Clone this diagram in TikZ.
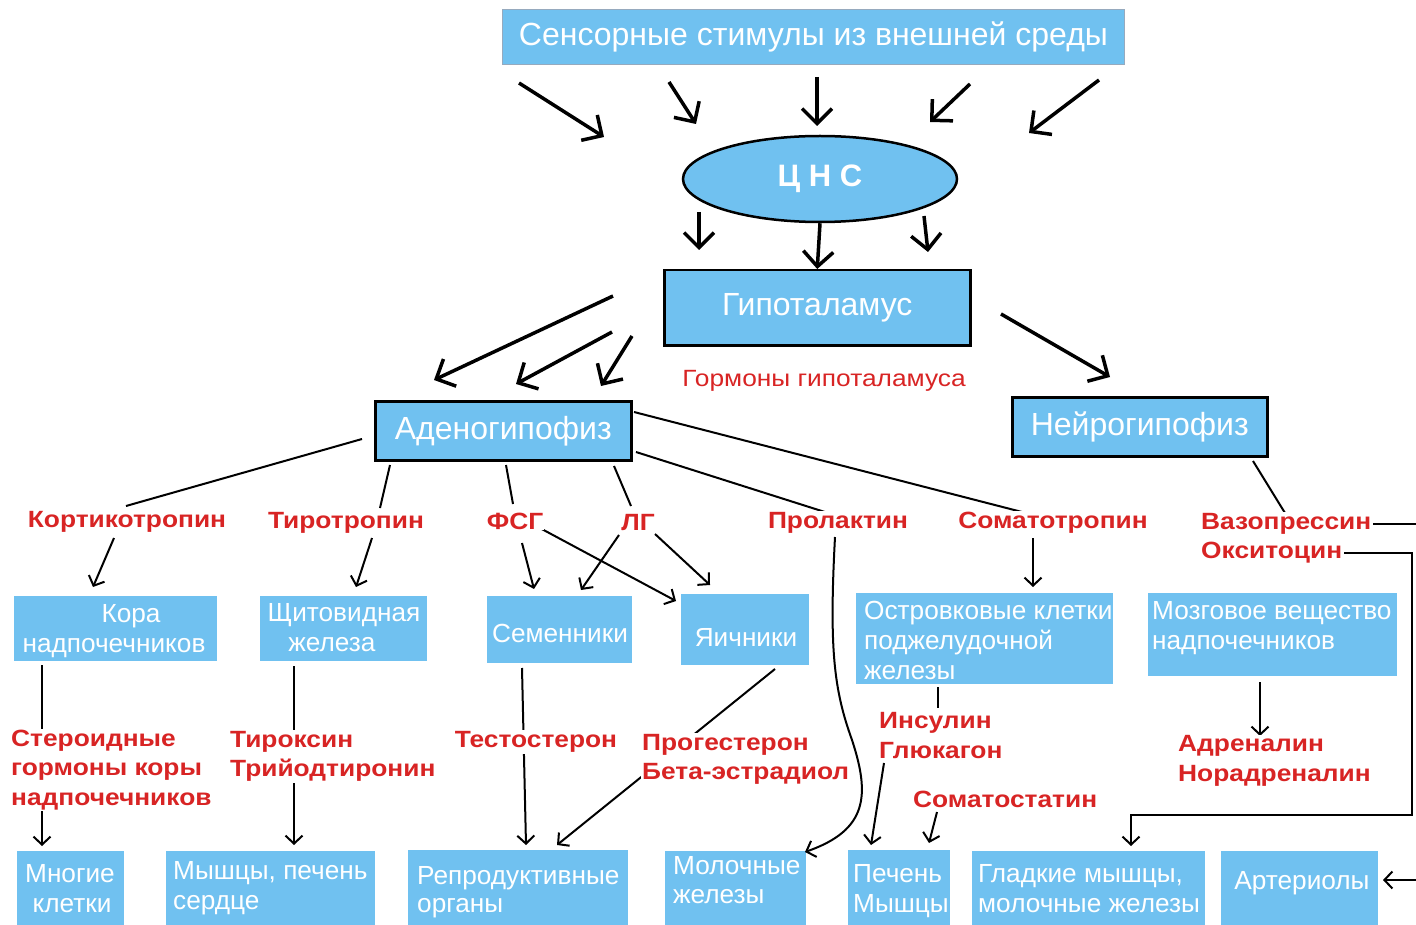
\documentclass[tikz,border=0pt]{standalone}
\usepackage{fontspec}
\setmainfont{Liberation Sans}
\newfontfamily\labfont[FakeStretch=1.12]{Liberation Sans}
\usetikzlibrary{shapes.geometric,arrows.meta}
\pgfdeclarelayer{bg}
\pgfsetlayers{bg,main}
\definecolor{boxblue}{RGB}{112,193,240}
\definecolor{hred}{RGB}{216,36,36}
\definecolor{edgegray}{RGB}{150,170,190}
\begin{document}
\begin{tikzpicture}[x=1pt,y=-1pt,
  box/.style={rectangle, fill=boxblue, inner sep=0pt, anchor=north west},
  mainbox/.style={box, draw=black, line width=2.5pt, text=white, font=\fontsize{32}{36}\selectfont},
  bt/.style={text=white, font=\fontsize{26.2}{30}\selectfont, inner sep=0pt, anchor=base west},
  btc/.style={bt, anchor=base},
  lab/.style={text=hred, font=\labfont\fontsize{23.5}{29.5}\selectfont\bfseries, align=left,
    inner sep=1pt, fill=white},
  bigarrow/.style={line width=3.5pt, -{Straight Barb[length=15pt,width=30pt]}},
  thinarrow/.style={line width=2pt, -{Straight Barb[length=8pt,width=17pt]}},
  conn/.style={line width=2pt}
]
\useasboundingbox (0,0) rectangle (1416,925);

% ---------- main nodes ----------
\node[box, draw=edgegray, line width=1pt, minimum width=622pt, minimum height=55pt,
  text=white, font=\fontsize{32}{36}\selectfont] (top) at (502,9) {Сенсорные стимулы из внешней среды};
\node[ellipse, fill=boxblue, draw=black, line width=2.5pt, minimum width=274pt,
  minimum height=86pt, text=white, font=\fontsize{31}{36}\selectfont\bfseries] (cns) at (820,179) {Ц Н С};
\node[mainbox, minimum width=306pt, minimum height=75pt] (hypo) at (663,269) {Гипоталамус};
\node[text=hred, font=\labfont\fontsize{23.5}{26}\selectfont] (hormh) at (824,381) {Гормоны гипоталамуса};
\node[mainbox, minimum width=256pt, minimum height=59pt] (adeno) at (374,400) {Аденогипофиз};
\node[mainbox, minimum width=255pt, minimum height=59pt] (neuro) at (1011,396) {Нейрогипофиз};

% ---------- second row ----------
\node[box, minimum width=203pt, minimum height=65pt] (kora) at (14,596) {};
\node[btc] (koraT1) at (131,622) {Кора};
\node[btc] (koraT2) at (114,652) {надпочечников};
\node[box, minimum width=167pt, minimum height=65pt] (shchit) at (260,596) {};
\node[btc] (shchitT1) at (344,621) {Щитовидная};
\node[btc] (shchitT2) at (332,651) {железа};
\node[box, minimum width=145pt, minimum height=67pt] (semen) at (487,596) {};
\node[btc] (semenT) at (560,642) {Семенники};
\node[box, minimum width=128pt, minimum height=71pt] (yaich) at (681,594) {};
\node[btc] (yaichT) at (746,646) {Яичники};
\node[box, minimum width=257pt, minimum height=91pt] (ostrov) at (856,593) {};
\node[bt] (ostrovT1) at (864,619) {Островковые клетки};
\node[bt] (ostrovT2) at (864,649) {поджелудочной};
\node[bt] (ostrovT3) at (864,679) {железы};
\node[box, minimum width=249pt, minimum height=83pt] (mozg) at (1148,593) {};
\node[bt] (mozgT1) at (1152,619) {Мозговое вещество};
\node[bt] (mozgT2) at (1152,649) {надпочечников};

% ---------- bottom row ----------
\node[box, minimum width=107pt, minimum height=74pt] (mnog) at (17,851) {};
\node[btc] (mnogT1) at (70,882) {Многие};
\node[btc] (mnogT2) at (72,912) {клетки};
\node[box, minimum width=209pt, minimum height=74pt] (mysh) at (166,851) {};
\node[bt] (myshT1) at (173,879) {Мышцы, печень};
\node[bt] (myshT2) at (173,909) {сердце};
\node[box, minimum width=220pt, minimum height=75pt] (repro) at (408,850) {};
\node[bt] (reproT1) at (417,884) {Репродуктивные};
\node[bt] (reproT2) at (417,912) {органы};
\node[box, minimum width=141pt, minimum height=74pt] (moloch) at (665,851) {};
\node[bt] (molochT1) at (673,874) {Молочные};
\node[bt] (molochT2) at (673,903) {железы};
\node[box, minimum width=102pt, minimum height=75pt] (pech) at (848,850) {};
\node[bt] (pechT1) at (853,882) {Печень};
\node[bt] (pechT2) at (853,912) {Мышцы};
\node[box, minimum width=233pt, minimum height=74pt] (glad) at (972,851) {};
\node[bt] (gladT1) at (978,882) {Гладкие мышцы,};
\node[bt] (gladT2) at (978,912) {молочные железы};
\node[box, minimum width=157pt, minimum height=74pt] (arter) at (1221,851) {};
\node[btc] (arterT) at (1302,889) {Артериолы};

% ---------- hormone labels ----------
\node[lab] (korti) at (127,522) {Кортикотропин};
\node[lab] (tiro) at (346,523) {Тиротропин};
\node[lab] (fsg) at (515,521) {ФСГ};
\node[lab] (lg) at (638,523) {ЛГ};
\node[lab] (prol) at (838,523) {Пролактин};
\node[lab] (soma) at (1053,523) {Соматотропин};
\node[lab, anchor=west] (vazo) at (1200,538.5) {Вазопрессин\\Окситоцин};
\node[lab, anchor=west] (ster) at (10,770) {Стероидные\\гормоны коры\\надпочечников};
\node[lab, anchor=west] (tirox) at (229,756.5) {Тироксин\\Трийодтиронин};
\node[lab] (testo) at (536,742) {Тестостерон};
\node[lab, anchor=west] (prog) at (641,759.5) {Прогестерон\\Бета-эстрадиол};
\node[lab, anchor=west] (insul) at (878,735.5) {Инсулин\\Глюкагон};
\node[lab, anchor=west] (somst) at (912,799) {Соматостатин};
\node[lab, anchor=west] (adren) at (1177,761) {Адреналин\\Норадреналин};

% ---------- connectors (behind the labels) ----------
\begin{pgfonlayer}{bg}
% stimuli -> CNS
\coordinate (s1) at (519,83);  \coordinate (c1) at (604,137);
\coordinate (s2) at (669,82);  \coordinate (c2) at (696,124);
\coordinate (s3) at (817,77);  \coordinate (c3) at (817,126);
\coordinate (s4) at (970,84);  \coordinate (c4) at (930,122);
\coordinate (s5) at (1099,80); \coordinate (c5) at (1029,133);
\foreach \i in {1,...,5} {\draw[bigarrow] (s\i) -- (c\i);}
% CNS -> hypothalamus
\draw[bigarrow] (699,212) -- (699,250);
\draw[bigarrow] (cns.south) -- (hypo.north);
\draw[bigarrow] (924,216) -- (928,252);
% hypothalamus -> hypophysis
\draw[bigarrow] (613,296) -- (434,380);
\draw[bigarrow] (612,332) -- (516,384);
\draw[bigarrow] (632,336) -- (601,386);
\draw[bigarrow] (1001,314) -- (1110,377);
% adenohypophysis -> hormones
\draw[conn] (362,439) -- (126,506);
\draw[conn] (390,465) -- (380,508);
\draw[conn] (506,465) -- (513,504);
\draw[conn] (614,466) -- (631,506);
\draw[conn] (636,452) -- (828,513);
\draw[conn] (634,412) -- (1022,512);
\draw[conn] (1253,461) -- (1285,513);
% hormones -> glands
\draw[thinarrow] (114,538) -- (93,587);
\draw[thinarrow] (372,538) -- (356,587);
\draw[thinarrow] (522,543) -- (534,589);
\draw[thinarrow] (538,527) -- (676,601);
\draw[thinarrow] (619,535) -- (581,590);
\draw[thinarrow] (655,534) -- (710,585);
\draw[thinarrow] (1033,538) -- (1033,587);
% glands -> hormones -> targets
\draw[thinarrow] (42,665) -- (42,846);
\draw[thinarrow] (294,666) -- (294,845);
\draw[thinarrow] (522,668) -- (526,845);
\draw[thinarrow] (775,669) -- (557,845);
\draw[conn] (938,687) -- (938,708);
\draw[thinarrow] (884,763) -- (871,845);
\draw[thinarrow] (937,812) -- (929,843);
\draw[thinarrow] (1260,682) -- (1260,736);
\draw[thinarrow] (1416,880) -- (1383,880);
\end{pgfonlayer}
% connectors that run past labels (on top)
\draw[thinarrow] (835,537) .. controls (829,650) and (834,690) .. (852,740)
  .. controls (870,795) and (868,830) .. (805,852);
\draw[conn] (1373,524) -- (1416,524);
\draw[thinarrow, line join=miter] (1344,553) -- (1412,553) -- (1412,815) -- (1131,815) -- (1131,846);
\end{tikzpicture}
\end{document}
